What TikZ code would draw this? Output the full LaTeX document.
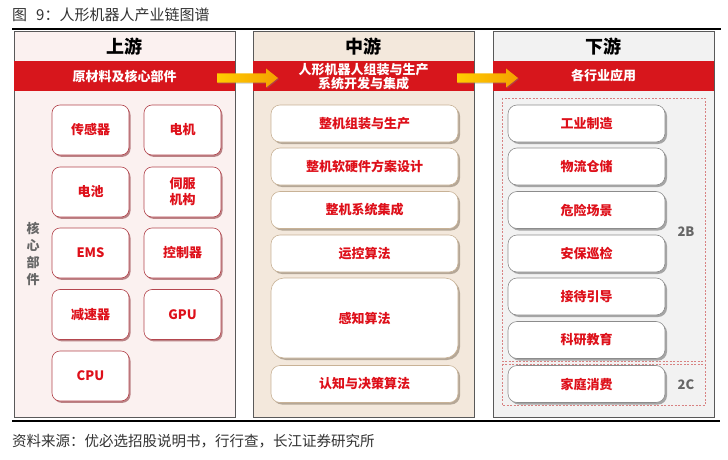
\documentclass[tikz,border=0pt]{standalone}
\usepackage{fontspec}
\setmainfont{Noto Sans CJK SC}
\usetikzlibrary{shadows}
\definecolor{bandred}{RGB}{215,22,28}
\definecolor{txtred}{RGB}{222,16,26}
\definecolor{lfill}{RGB}{251,241,240}
\definecolor{mfill}{RGB}{243,232,220}
\definecolor{rfill}{RGB}{242,242,242}
\definecolor{lboxc}{RGB}{180,70,78}
\definecolor{mboxc}{RGB}{200,178,150}
\definecolor{rboxc}{RGB}{140,140,140}
\definecolor{dashc}{RGB}{216,130,130}
\definecolor{titc}{RGB}{50,50,50}
\definecolor{arrY}{RGB}{255,205,0}
\definecolor{arrO}{RGB}{245,160,0}
\tikzset{
  panel/.style={draw=black!65, line width=0.8pt},
  band/.style={fill=bandred},
  hdr/.style={font=\bfseries\fontsize{18}{20}\selectfont, text=black},
  bandtxt/.style={font=\bfseries\fontsize{13}{16}\selectfont, text=white, align=center},
  boxbase/.style={fill=white, text=txtred, align=center, inner sep=0pt,
    font=\bfseries\fontsize{13}{16}\selectfont, line width=0.6pt},
  lbox/.style={boxbase, draw=lboxc, rounded corners=8pt, minimum width=77pt, minimum height=50pt,
    drop shadow={shadow xshift=1.5pt, shadow yshift=-1.8pt, fill=lboxc!80!black, opacity=0.6}},
  mbox/.style={boxbase, draw=mboxc, rounded corners=9pt, minimum width=187pt,
    drop shadow={shadow xshift=2pt, shadow yshift=-2pt, fill=mboxc!70!black, opacity=0.6}},
  rbox/.style={boxbase, draw=rboxc, rounded corners=9pt, minimum width=157pt, minimum height=37pt,
    drop shadow={shadow xshift=2pt, shadow yshift=-2pt, fill=black!55, opacity=0.6}},
  dbox/.style={draw=dashc, dash pattern=on 2pt off 1.5pt, line width=0.8pt},
  side/.style={font=\bfseries\fontsize{13}{17}\selectfont, text=black!60, align=center},
  bigarrow/.style={left color=arrY, right color=arrO, drop shadow={shadow xshift=1pt, shadow yshift=-1pt, opacity=0.4}},
}
\begin{document}
\begin{tikzpicture}[x=1pt,y=-1pt]
\useasboundingbox (0,0) rectangle (728,460);
% title
\node[anchor=west, text=titc, font=\fontsize{15}{17}\selectfont, inner sep=0pt] (title) at (12,15) {图\hspace{0.6em}9：人形机器人产业链图谱};
\draw[line width=1.6pt] (12,29) -- (721,29);
\draw[line width=2pt] (12,421) -- (720,421);
\node[anchor=west, text=titc, font=\fontsize{14.5}{16}\selectfont, inner sep=0pt] (src) at (12,441) {资料来源：优必选招股说明书，行行查，长江证券研究所};

% panels
\draw[panel, fill=lfill] (14,31) rectangle (235,417);
\draw[panel, fill=mfill] (253,31) rectangle (474,417);
\draw[panel, fill=rfill] (493,31) rectangle (714,417);
\fill[band] (14,61) rectangle (235,91);
\fill[band] (253,61) rectangle (474,91);
\fill[band] (493,61) rectangle (714,91);

\node[hdr] (h1) at (124.5,47) {上游};
\node[hdr] (h2) at (363.5,47) {中游};
\node[hdr] (h3) at (603.5,47) {下游};
\node[bandtxt] (b1) at (124.5,76) {原材料及核心部件};
\node[bandtxt] (b2) at (363.5,76.5) {人形机器人组装与生产\\[-2pt]系统开发与集成};
\node[bandtxt] (b3) at (603.5,76) {各行业应用};

% arrows
\shade[bigarrow] (217,73.5) -- (266,73.5) -- (266,68.5) -- (278,78) -- (266,87.5) -- (266,82.5) -- (217,82.5) -- cycle;
\shade[bigarrow] (457,73.5) -- (506,73.5) -- (506,68.5) -- (518,78) -- (506,87.5) -- (506,82.5) -- (457,82.5) -- cycle;

% left boxes
\node[side] (core) at (33,254) {核\\心\\部\\件};
\node[lbox] (l1) at (90.5,130) {传感器};
\node[lbox] (l2) at (182.5,130) {电机};
\node[lbox] (l3) at (90.5,192) {电池};
\node[lbox] (l4) at (182.5,192) {伺服\\机构};
\node[lbox] (l5) at (90.5,253) {EMS};
\node[lbox] (l6) at (182.5,253) {控制器};
\node[lbox] (l7) at (90.5,314.5) {减速器};
\node[lbox] (l8) at (182.5,314.5) {GPU};
\node[lbox] (l9) at (90.5,376) {CPU};

% middle boxes
\node[mbox, minimum height=37pt] (m1) at (364.5,123.5) {整机组装与生产};
\node[mbox, minimum height=37pt] (m2) at (364.5,166.5) {整机软硬件方案设计};
\node[mbox, minimum height=37pt] (m3) at (364.5,210) {整机系统集成};
\node[mbox, minimum height=37pt] (m4) at (364.5,253.5) {运控算法};
\node[mbox, minimum height=80pt, rounded corners=13pt] (m5) at (364.5,318) {感知算法};
\node[mbox, minimum height=37pt] (m6) at (364.5,384) {认知与决策算法};

% right side
\draw[dbox] (502,98) rectangle (705,361);
\draw[dbox] (502,364) rectangle (705,405);
\node[rbox] (r1) at (586.5,123.5) {工业制造};
\node[rbox] (r2) at (586.5,166.5) {物流仓储};
\node[rbox] (r3) at (586.5,210) {危险场景};
\node[rbox] (r4) at (586.5,253.5) {安保巡检};
\node[rbox] (r5) at (586.5,296.5) {接待引导};
\node[rbox] (r6) at (586.5,340) {科研教育};
\node[rbox] (r7) at (586.5,384) {家庭消费};
\node[side] (tb) at (686,232) {2B};
\node[side] (tc) at (686,385) {2C};
\end{tikzpicture}
\end{document}
